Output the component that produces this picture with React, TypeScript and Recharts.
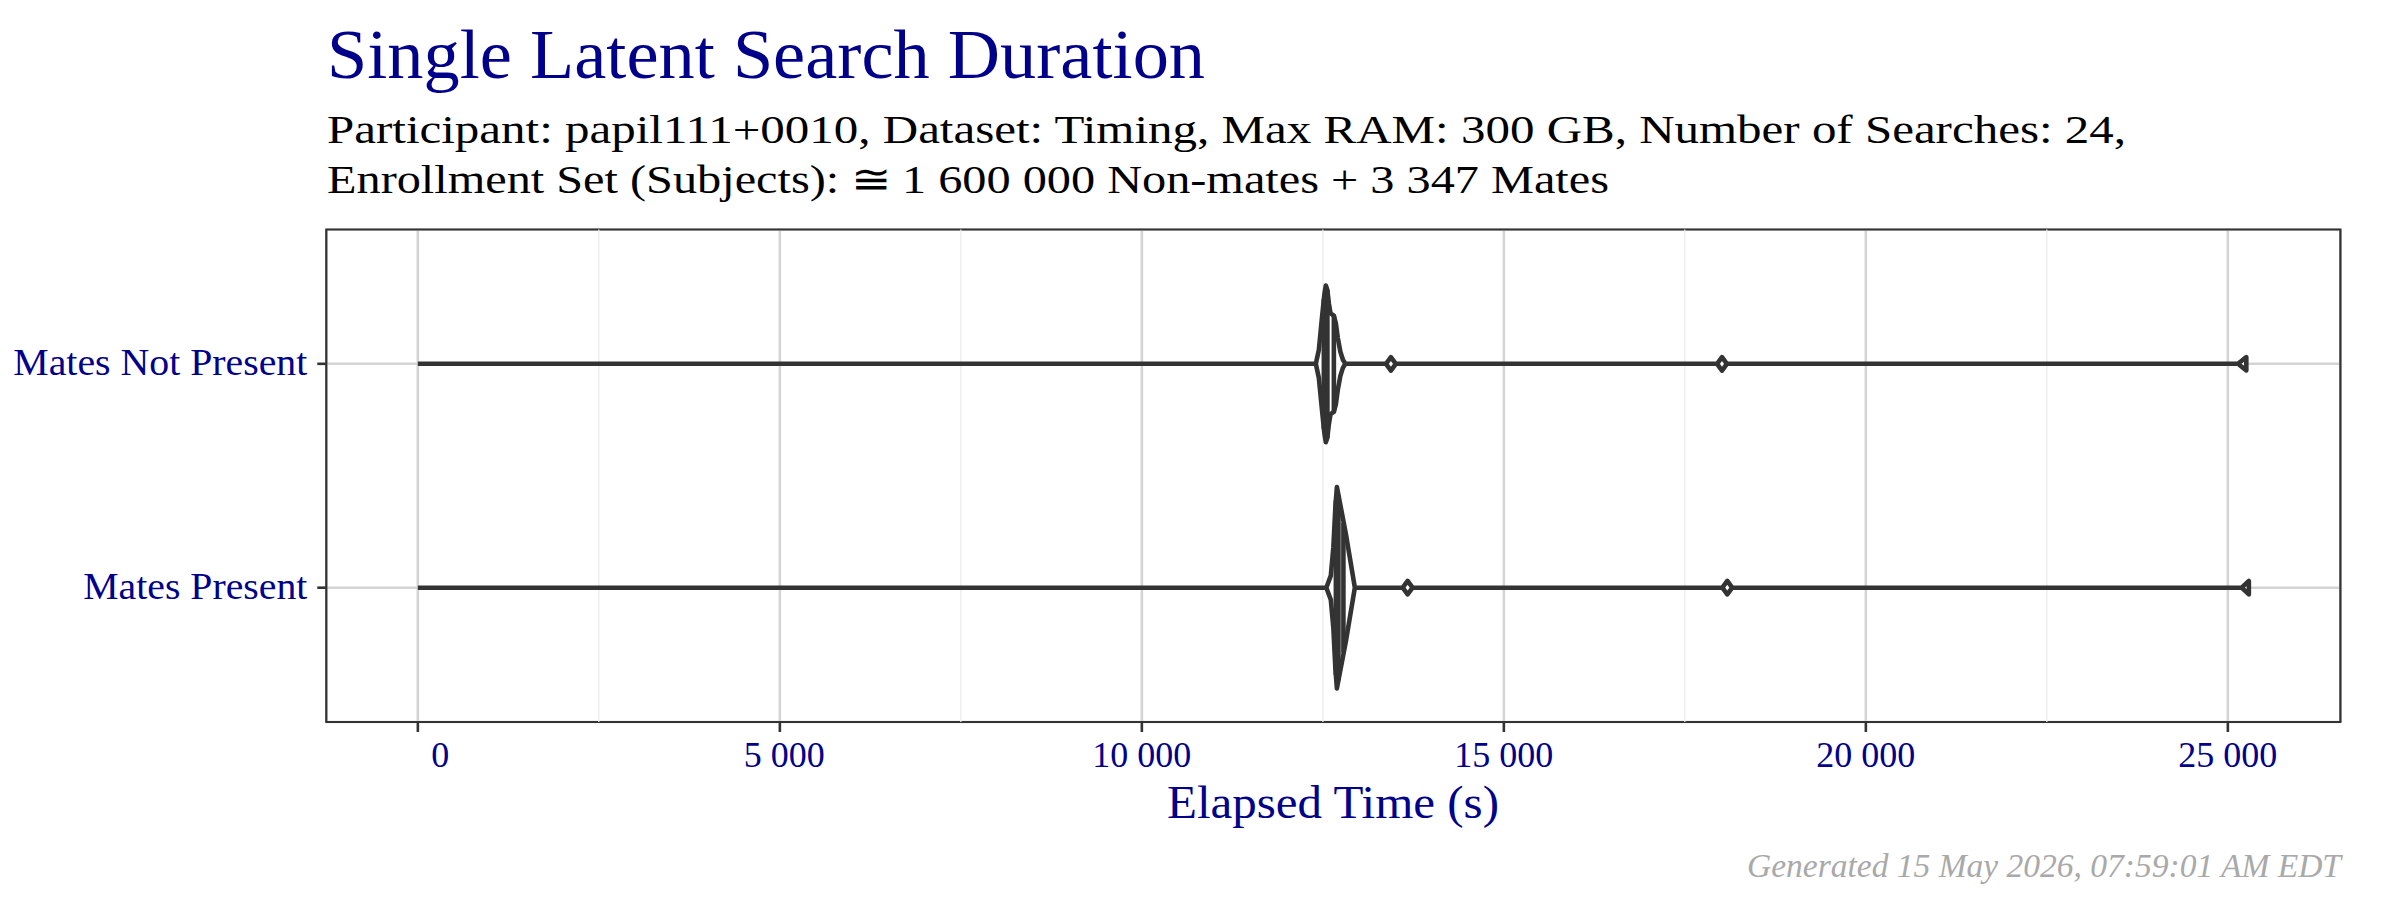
import React from "react";
import {
  ScatterChart,
  Scatter,
  XAxis,
  YAxis,
  CartesianGrid,
  ReferenceLine,
  ReferenceArea,
} from "recharts";

// ---------- data ----------
const categories = ["Mates Present", "Mates Not Present"];
const categoryPositions = [1, 2];

const xTicks = [0, 5000, 10000, 15000, 20000, 25000];
const xMinorTicks = [2500, 7500, 12500, 17500, 22500];
const xDomain: [number, number] = [-1264.5, 26554.5];
const yDomain: [number, number] = [0.4, 2.6];

// violin outline: [elapsed seconds, half width (category units)]
const matesNotPresentProfile: [number, number][] = [
  [0, 0],
  [12403, 0],
  [12445, 0.063],
  [12486, 0.2],
  [12521, 0.31],
  [12541, 0.35],
  [12562, 0.33],
  [12583, 0.27],
  [12606, 0.225],
  [12652, 0.215],
  [12680, 0.18],
  [12707, 0.115],
  [12742, 0.054],
  [12777, 0.018],
  [12811, 0],
  [13372, 0],
  [13440, 0.03],
  [13508, 0],
  [17945, 0],
  [18013, 0.03],
  [18081, 0],
  [25140, 0],
  [25255, 0.03],
];

const matesPresentProfile: [number, number][] = [
  [0, 0],
  [12548, 0],
  [12610, 0.054],
  [12645, 0.18],
  [12673, 0.36],
  [12694, 0.45],
  [12818, 0.24],
  [12942, 0],
  [13603, 0],
  [13671, 0.03],
  [13739, 0],
  [18018, 0],
  [18086, 0.03],
  [18154, 0],
  [25190, 0],
  [25290, 0.03],
];

// quantile lines (25%, 50%, 75%): [elapsed seconds, half width]
const matesNotPresentQuantiles: [number, number][] = [
  [12514, 0.29],
  [12563, 0.33],
  [12652, 0.215],
];
const matesPresentQuantiles: [number, number][] = [
  [12680, 0.39],
  [12715, 0.414],
  [12784, 0.29],
];

const titleText = "Single Latent Search Duration";
const subtitleLines = [
  "Participant: papil111+0010, Dataset: Timing, Max RAM: 300 GB, Number of Searches: 24,",
  "Enrollment Set (Subjects): \u2245\u20091\u00A0600\u00A0000 Non-mates + 3\u00A0347 Mates",
];
const xAxisTitle = "Elapsed Time (s)";
const captionText = "Generated 15 May 2026, 07:59:01 AM EDT";

// ---------- helpers ----------
const FONT = "'Liberation Serif', 'Times New Roman', serif";
const BLUE = "#00008B";
const INK = "#333333";
const STROKE = 4.6;

function outline(profile: [number, number][], center: number) {
  const top = profile.map(([x, h]) => ({ x, y: center + h }));
  const bottom = profile
    .slice()
    .reverse()
    .map(([x, h]) => ({ x, y: center - h }));
  return [...top, ...bottom, top[0]];
}

const violins = [
  {
    name: categories[1],
    center: categoryPositions[1],
    profile: matesNotPresentProfile,
    quantiles: matesNotPresentQuantiles,
  },
  {
    name: categories[0],
    center: categoryPositions[0],
    profile: matesPresentProfile,
    quantiles: matesPresentQuantiles,
  },
];

function formatThousands(v: number) {
  return String(v).replace(/\B(?=(\d{3})+(?!\d))/g, "\u00A0");
}

function XTick(props: any) {
  const { x, y, payload } = props;
  const label = formatThousands(payload.value).padStart(6, "\u00A0");
  return (
    <text
      x={x}
      y={y}
      dy={35}
      textAnchor="middle"
      fill={BLUE}
      fontSize={36}
      fontFamily={FONT}
      style={{ whiteSpace: "pre" }}
    >
      {label}
    </text>
  );
}

const yLabelWidths: Record<string, number> = {
  "Mates Present": 224,
  "Mates Not Present": 294,
};

function YTick(props: any) {
  const { x, y, payload } = props;
  const idx = categoryPositions.indexOf(payload.value);
  const label = categories[idx] ?? "";
  return (
    <text
      x={x}
      y={y}
      dy={11.5}
      textAnchor="end"
      fill={BLUE}
      fontSize={37}
      fontFamily={FONT}
      textLength={yLabelWidths[label]}
      lengthAdjust="spacingAndGlyphs"
    >
      {label}
    </text>
  );
}

const renderNone = () => <g />;

export default function App() {
  return (
    <div
      style={{
        position: "absolute",
        left: 0,
        top: 0,
        width: 2400,
        height: 900,
        background: "#ffffff",
      }}
    >
      <ScatterChart
        width={2400}
        height={900}
        margin={{ top: 229.5, right: 59.6, bottom: 118, left: 26.3 }}
      >
        <CartesianGrid stroke="#d4d4d4" strokeWidth={2.6} />
        {xMinorTicks.map((t) => (
          <ReferenceLine
            key={`minor-${t}`}
            x={t}
            stroke="#ebebeb"
            strokeWidth={1.3}
          />
        ))}
        <XAxis
          type="number"
          dataKey="x"
          domain={xDomain}
          ticks={xTicks}
          interval={0}
          allowDataOverflow
          axisLine={false}
          tickLine={{ stroke: INK, strokeWidth: 2.6 }}
          tickSize={10}
          tickMargin={0}
          tick={<XTick />}
          height={60}
        />
        <YAxis
          type="number"
          dataKey="y"
          domain={yDomain}
          ticks={categoryPositions}
          interval={0}
          allowDataOverflow
          axisLine={false}
          tickLine={{ stroke: INK, strokeWidth: 2.6 }}
          tickSize={9}
          tickMargin={10}
          tick={<YTick />}
          width={300}
        />
        {violins.map((v) => (
          <Scatter
            key={v.name}
            name={v.name}
            data={outline(v.profile, v.center)}
            line={{
              stroke: INK,
              strokeWidth: STROKE,
              fill: "#ffffff",
              strokeLinejoin: "round",
            }}
            lineType="joint"
            shape={renderNone}
            isAnimationActive={false}
          />
        ))}
        {violins.map((v) =>
          v.quantiles.map(([q, h], i) => (
            <Scatter
              key={`${v.name}-q${i}`}
              name={`${v.name} quantile ${i + 1}`}
              data={[
                { x: q, y: v.center - h },
                { x: q, y: v.center + h },
              ]}
              line={{ stroke: INK, strokeWidth: STROKE, fill: "none" }}
              lineType="joint"
              shape={renderNone}
              isAnimationActive={false}
            />
          ))
        )}
        <ReferenceArea
          x1={xDomain[0]}
          x2={xDomain[1]}
          y1={yDomain[0]}
          y2={yDomain[1]}
          fill="none"
          stroke={INK}
          strokeWidth={2.2}
        />
      </ScatterChart>
      <svg
        width={2400}
        height={900}
        style={{ position: "absolute", left: 0, top: 0, pointerEvents: "none" }}
      >
        <text
          x={327}
          y={78}
          fill={BLUE}
          fontSize={70}
          fontFamily={FONT}
          textLength={878}
          lengthAdjust="spacingAndGlyphs"
        >
          {titleText}
        </text>
        <text
          x={327}
          y={143}
          fill="#000000"
          fontSize={40}
          fontFamily={FONT}
          textLength={1799}
          lengthAdjust="spacingAndGlyphs"
        >
          {subtitleLines[0]}
        </text>
        <text
          x={327}
          y={192.5}
          fill="#000000"
          fontSize={40}
          fontFamily={FONT}
          textLength={1282}
          lengthAdjust="spacingAndGlyphs"
        >
          {subtitleLines[1]}
        </text>
        <text
          x={1333}
          y={817.7}
          fill={BLUE}
          fontSize={47}
          fontFamily={FONT}
          textAnchor="middle"
          textLength={332}
          lengthAdjust="spacingAndGlyphs"
        >
          {xAxisTitle}
        </text>
        <text
          x={2341}
          y={877}
          fill="#a9a9a9"
          fontSize={33}
          fontStyle="italic"
          fontFamily={FONT}
          textAnchor="end"
          textLength={594}
          lengthAdjust="spacingAndGlyphs"
        >
          {captionText}
        </text>
      </svg>
    </div>
  );
}
